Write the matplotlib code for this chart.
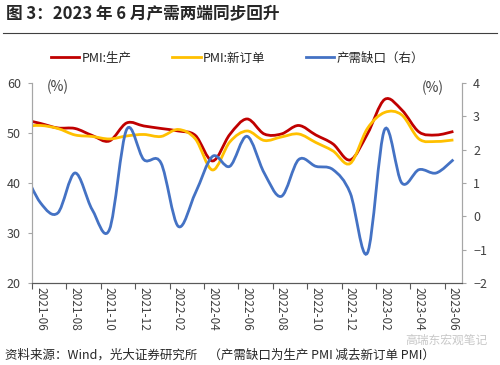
import numpy as np
import matplotlib
matplotlib.use("Agg")
import matplotlib.pyplot as plt
from matplotlib.path import Path
from matplotlib.patches import PathPatch
from matplotlib.lines import Line2D

plt.rcParams['font.family'] = ['Noto Sans CJK SC', 'DejaVu Sans']

# data (monthly, 2021-05 .. 2023-06; 2021-05 only shows as the clipped lead-in)
months = ['2021-05', '2021-06', '2021-07', '2021-08', '2021-09', '2021-10', '2021-11', '2021-12',
          '2022-01', '2022-02', '2022-03', '2022-04', '2022-05', '2022-06', '2022-07', '2022-08',
          '2022-09', '2022-10', '2022-11', '2022-12', '2023-01', '2023-02', '2023-03', '2023-04',
          '2023-05', '2023-06']
pmi_prod = [52.7, 51.9, 51.0, 50.9, 49.5, 48.4, 52.0, 51.4, 50.9, 50.4, 49.5, 44.4, 49.7,
            52.8, 49.8, 49.8, 51.5, 49.6, 47.8, 44.6, 49.8, 56.7, 54.6, 50.2, 49.6, 50.3]
pmi_new = [51.3, 51.5, 50.9, 49.6, 49.3, 48.8, 49.4, 49.7, 49.3, 50.7, 48.8, 42.6, 48.2,
           50.4, 48.5, 49.2, 49.8, 48.1, 46.4, 43.9, 50.9, 54.1, 53.6, 48.8, 48.3, 48.6]
gap = [1.4, 0.4, 0.1, 1.3, 0.2, -0.4, 2.6, 1.7, 1.6, -0.3, 0.7, 1.8, 1.5,
       2.4, 1.3, 0.6, 1.7, 1.5, 1.4, 0.7, -1.1, 2.6, 1.0, 1.4, 1.3, 1.7]
names = ['PMI:生产', 'PMI:新订单', '产需缺口（右）']
colors = ['#C00000', '#FFC000', '#4472C4']


def smooth_path(xs, ys):
    # excel-like smoothed line: catmull-rom as cubic bezier
    pts = np.column_stack([xs, ys]).astype(float)
    n = len(pts)
    verts = [pts[0]]
    codes = [Path.MOVETO]
    for i in range(n - 1):
        p0 = pts[i - 1] if i > 0 else pts[i]
        p1 = pts[i]
        p2 = pts[i + 1]
        p3 = pts[i + 2] if i + 2 < n else pts[i + 1]
        verts += [p1 + (p2 - p0) / 6, p2 - (p3 - p1) / 6, p2]
        codes += [Path.CURVE4] * 3
    return Path(verts, codes)


x = np.arange(len(months)) - 1  # 2021-06 at 0

fig = plt.figure(figsize=(5, 3.65), dpi=100)
ax = fig.add_axes([0.064, 0.2247, 0.86, 0.548])
ax2 = ax.twinx()

ax.add_patch(PathPatch(smooth_path(x, pmi_prod), fill=False, edgecolor=colors[0], lw=2.0))
ax.add_patch(PathPatch(smooth_path(x, pmi_new), fill=False, edgecolor=colors[1], lw=2.0))
ax2.add_patch(PathPatch(smooth_path(x, gap), fill=False, edgecolor=colors[2], lw=2.0))

ax.set_xlim(-0.5, 24.5)
ax.set_ylim(20, 60)
ax.set_yticks([20, 30, 40, 50, 60])
ax2.set_ylim(-2, 4)
ax2.set_yticks([-2, -1, 0, 1, 2, 3, 4])

ax.set_xticks(np.arange(-0.5, 24, 2), labels=[])
ax.set_xticks(np.arange(0, 25, 2), labels=months[1::2], minor=True)
ax.tick_params(axis='x', which='major', direction='out', length=4, color='#595959')
ax.tick_params(axis='x', which='minor', length=0, pad=3, labelsize=8.5,
               labelrotation=-90, labelcolor='#404040')
ax.tick_params(axis='y', direction='out', length=3, color='#A6A6A6', labelsize=9,
               labelcolor='#404040', pad=5)
ax2.tick_params(axis='y', direction='out', length=3, color='#A6A6A6', labelsize=9,
                labelcolor='#404040', pad=5)

for a in (ax, ax2):
    a.spines['top'].set_visible(False)
    a.spines['left'].set_color('#A6A6A6')
    a.spines['right'].set_color('#A6A6A6')
    a.spines['bottom'].set_color('#595959')

fig.text(0.012, 1 - 14 / 365, '图 3：2023 年 6 月产需两端同步回升', fontsize=12,
         fontweight='bold', color='#262626', va='center')
fig.add_artist(Line2D([0.006, 0.994], [1 - 33 / 365] * 2, color='#404040', lw=0.8))

handles = [Line2D([], [], color=c, lw=2) for c in colors]
fig.legend(handles, names, loc='center', bbox_to_anchor=(0.475, 1 - 58 / 365), ncol=3,
           frameon=False, fontsize=9, handlelength=2.3, handletextpad=0.2,
           columnspacing=3.2, labelcolor='#262626')

fig.text(47 / 500, 1 - 87 / 365, '(%)', fontsize=10, color='#404040', va='center')
fig.text(422 / 500, 1 - 88 / 365, '(%)', fontsize=10, color='#404040', va='center')

fig.text(405 / 500, 1 - 340 / 365, '高瑞东宏观笔记', fontsize=8.5, color='#C8C8C8', va='center')
fig.text(0.01, 1 - 355 / 365,
         '资料来源：Wind，光大证券研究所    （产需缺口为生产 PMI 减去新订单 PMI）',
         fontsize=9, color='#262626', va='center')

fig.savefig('out.png', dpi=100)
